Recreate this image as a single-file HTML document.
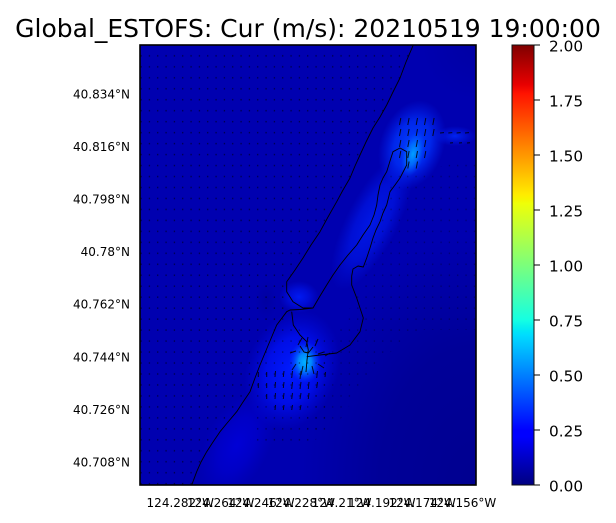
<!DOCTYPE html>
<html>
<head>
<meta charset="utf-8">
<style>
html,body{margin:0;padding:0;background:#fff;width:616px;height:523px;overflow:hidden;}
svg{display:block;position:absolute;left:0;top:0;}
text{font-family:"DejaVu Sans","Liberation Sans",sans-serif;fill:#000;}
</style>
</head>
<body>
<svg width="616" height="523" viewBox="0 0 616 523" xmlns="http://www.w3.org/2000/svg" overflow="hidden">
<defs>
  <clipPath id="pc"><rect x="140" y="45" width="336" height="440"/></clipPath>
  <pattern id="q" x="145.7" y="51.7" width="8.333" height="10.97" patternUnits="userSpaceOnUse">
    <rect x="3.2" y="3.4" width="1" height="1.5" fill="#000" fill-opacity="0.7"/>
  </pattern>
  <radialGradient id="gDarkU" gradientUnits="userSpaceOnUse" cx="0" cy="0" r="1" gradientTransform="translate(476 485) scale(175 250)"><stop offset="0" stop-color="#000090" stop-opacity="1"/><stop offset="0.55" stop-color="#000092" stop-opacity="0.8"/><stop offset="1" stop-color="#000092" stop-opacity="0"/></radialGradient>
  <radialGradient id="gCornerU" gradientUnits="userSpaceOnUse" cx="0" cy="0" r="1" gradientTransform="translate(476 45) scale(55 55)"><stop offset="0" stop-color="#0000a4" stop-opacity="1"/><stop offset="1" stop-color="#0000a4" stop-opacity="0"/></radialGradient>
  <radialGradient id="gChan"><stop offset="0" stop-color="#0018e6" stop-opacity="1"/><stop offset="0.55" stop-color="#0014e0" stop-opacity="0.75"/><stop offset="1" stop-color="#0010d8" stop-opacity="0"/></radialGradient>
  <radialGradient id="gTR"><stop offset="0" stop-color="#0040ff" stop-opacity="1"/><stop offset="0.55" stop-color="#0030f8" stop-opacity="0.8"/><stop offset="1" stop-color="#0020f0" stop-opacity="0"/></radialGradient>
  <radialGradient id="gCore"><stop offset="0" stop-color="#00a0ff" stop-opacity="1"/><stop offset="0.5" stop-color="#0078ff" stop-opacity="0.75"/><stop offset="1" stop-color="#0050ff" stop-opacity="0"/></radialGradient>
  <radialGradient id="gBand"><stop offset="0" stop-color="#0024f0" stop-opacity="1"/><stop offset="1" stop-color="#001ae8" stop-opacity="0"/></radialGradient>
  <radialGradient id="gJ"><stop offset="0" stop-color="#001af2" stop-opacity="1"/><stop offset="0.5" stop-color="#0014ea" stop-opacity="0.65"/><stop offset="1" stop-color="#0010e0" stop-opacity="0"/></radialGradient>
  <radialGradient id="gHalo"><stop offset="0" stop-color="#001cff" stop-opacity="1"/><stop offset="0.55" stop-color="#0010f0" stop-opacity="0.85"/><stop offset="1" stop-color="#0008d8" stop-opacity="0"/></radialGradient>
  <radialGradient id="gSpot"><stop offset="0" stop-color="#00b4ff" stop-opacity="1"/><stop offset="0.4" stop-color="#0094ff" stop-opacity="0.9"/><stop offset="1" stop-color="#0040ff" stop-opacity="0"/></radialGradient>
  <radialGradient id="gLow"><stop offset="0" stop-color="#0000d6" stop-opacity="1"/><stop offset="0.5" stop-color="#0000d0" stop-opacity="0.7"/><stop offset="1" stop-color="#0000c8" stop-opacity="0"/></radialGradient>
  <radialGradient id="gShade"><stop offset="0" stop-color="#0000a0" stop-opacity="0.9"/><stop offset="1" stop-color="#0000a0" stop-opacity="0"/></radialGradient>
  <linearGradient id="jet" x1="0" y1="1" x2="0" y2="0">
    <stop offset="0" stop-color="#000080"/>
    <stop offset="0.11" stop-color="#0000ff"/>
    <stop offset="0.125" stop-color="#0000ff"/>
    <stop offset="0.34" stop-color="#00dbff"/>
    <stop offset="0.35" stop-color="#00e6f7"/>
    <stop offset="0.375" stop-color="#15ffe2"/>
    <stop offset="0.64" stop-color="#efff08"/>
    <stop offset="0.65" stop-color="#f7f500"/>
    <stop offset="0.66" stop-color="#ffec00"/>
    <stop offset="0.89" stop-color="#ff1300"/>
    <stop offset="0.91" stop-color="#e80000"/>
    <stop offset="1" stop-color="#800000"/>
  </linearGradient>
</defs>

<rect x="0" y="0" width="616" height="523" fill="#fff"/>

<!-- Title -->
<text x="308" y="37" font-size="25" text-anchor="middle">Global_ESTOFS: Cur (m/s): 20210519 19:00:00</text>

<!-- Plot field -->
<g clip-path="url(#pc)">
  <rect x="140" y="45" width="336" height="440" fill="#0000b0"/>
  <rect x="140" y="45" width="336" height="440" fill="url(#gDarkU)"/>
  <rect x="140" y="45" width="336" height="440" fill="url(#gCornerU)"/>
  <ellipse cx="372" cy="222" rx="26" ry="75" fill="url(#gChan)" transform="rotate(27 372 222)"/>
  <ellipse cx="237" cy="445" rx="32" ry="58" fill="url(#gLow)" transform="rotate(27 237 445)"/>
  <ellipse cx="266" cy="300" rx="11" ry="20" fill="url(#gShade)"/>
  <ellipse cx="455" cy="136" rx="21" ry="10" fill="url(#gBand)"/>
  <ellipse cx="412" cy="145" rx="32" ry="46" fill="url(#gTR)" transform="rotate(20 412 145)"/>
  <ellipse cx="413" cy="154" rx="11" ry="23" fill="url(#gCore)" transform="rotate(15 413 154)"/>
  <ellipse cx="299" cy="297" rx="20" ry="16" fill="url(#gJ)"/>
  <ellipse cx="292" cy="370" rx="46" ry="62" fill="url(#gHalo)" transform="rotate(20 292 370)"/>
  <ellipse cx="305" cy="362" rx="16" ry="21" fill="url(#gSpot)"/>

  <!-- quiver dots -->
  <polygon points="140,45 413,45 400,78 386.7,105 373,128 360,155 350,178 336.7,201.7 320,231.7 303,258 286.7,281.7 286,292 283,313 276.7,325 268.3,345 260,365 250,391.7 236.7,411.7 220,431.7 206.7,451.7 196.7,471.7 191.7,485 140,485" fill="url(#q)"/>
  <polygon points="390,175 476,160 476,330 420,330 380,360 340,420 300,440 330,340 355,300 370,250" fill="url(#q)" opacity="0.55"/>
  <polygon points="283,313 300,330 330,340 330,430 300,450 250,440 260,360" fill="url(#q)" opacity="0.8"/>

  <!-- quiver arrows -->
  <g stroke="#000" stroke-width="1" stroke-opacity="0.85" fill="none">
    <path d="M399.5,125L400.8,118 M407.8,125L409.1,118 M416.2,125L417.5,118 M424.5,125L425.8,118 M432.8,125L434.1,118
             M399.5,136L400.8,129 M407.8,136L409.1,129 M416.2,136L417.5,129 M424.5,136L425.8,129 M432.8,136L434.1,129
             M399.5,147L400.8,140 M407.8,147L409.1,140 M416.2,147L417.5,140 M424.5,147L425.8,140
             M399.5,158L400.8,151 M407.8,158L409.1,151 M416.2,158L417.5,151 M424.5,158L425.8,151
             M407.8,168.5L409.1,161.5 M416.2,168.5L417.5,161.5
             M440,133L444,132.6 M448.3,133L452.3,132.6 M456.6,133L460.6,132.6 M465,133L469,132.6
             M450,143L453,142.7 M459,143L462,142.7 M467,143L470,142.7"/>
    <path d="M298,345L302,338 M306,347L308,337 M315,346L318,339 M290,353L296,351 M318,354L324,352
             M296,364L292,370 M303,366L301,375 M312,366L314,374 M318,364L324,368 M325,356L330,353
             M258.3,377L258.3,372 M266.7,377L266.7,372 M275,377L275.5,371 M283.3,377L284,371 M291.7,378L292.5,371 M300,379L301,371 M316.7,378L317.5,371 M325,377L325.5,372
             M258.3,388L258.3,383 M266.7,388L266.7,383 M275,388L275.5,382 M283.3,388L284,382 M291.7,389L292.5,382 M300,389L301,382 M308.3,389L309,382 M316.7,388L317.5,382
             M266.7,399L266.7,394 M275,399L275.5,393 M283.3,399L284,393 M291.7,399L292.5,393 M300,399L301,393 M308.3,399L309,393
             M275,410L275.5,405 M283.3,410L284,405 M291.7,410L292.5,405 M300,410L301,405"/>
  </g>

  <!-- coastlines -->
  <g stroke="#000" stroke-width="0.9" fill="none" stroke-linejoin="round">
    <path d="M413.3,45 L406,62 L400,78 L393,92 L386.7,105 L380,117 L373,128 L366,142 L360,155 L355,166 L350,178 L343,190 L336.7,201.7 L328,217 L320,231.7 L311,245 L303,258 L295,270 L286.7,281.7 L286.7,291.7 L293,301.7 L303,308 L313,308 L320,296 L326.7,285 L333,275 L340,265 L348,255 L356.7,245 L363,235 L370,225 L374,215 L376.7,205 L378,195 L380,185 L383,178 L386.7,171.7 L390,161 L393,151.7 L400,148 L406.7,151.7 L406.7,165 L400,178 L395,185 L390,191.7 L386.7,205 L383,213 L380,221.7 L376,230 L373,238 L370,248 L366.7,258 L363.3,267 L358,266 L353,269 L351.7,276 L351.7,285 L356.7,298 L360,308 L363.3,318 L360,331.7 L350,345 L336.7,353 L320,355 L306.7,356.7"/>
    <path d="M313,308 L300,309.5 L290,310 L286.7,311.7 L276.7,325 L268.3,345 L260,365 L255,378 L250,391.7 L243,402 L236.7,411.7 L228,422 L220,431.7 L213,442 L206.7,451.7 L201,462 L196.7,471.7 L191.7,485"/>
    <path d="M291.7,311.7 L293.3,325 L300,335 L306.7,341.7 L308.3,350 L307,360 L306,372"/>
    <path d="M300,346 L304,352 L308.3,353 L313,347"/>
  </g>
</g>
<rect x="140" y="45" width="336" height="440" fill="none" stroke="#000" stroke-width="1.6"/>

<!-- Y labels -->
<g font-size="12" text-anchor="end">
  <text x="130" y="98.5">40.834°N</text>
  <text x="130" y="151.1">40.816°N</text>
  <text x="130" y="203.6">40.798°N</text>
  <text x="130" y="256.2">40.78°N</text>
  <text x="130" y="308.7">40.762°N</text>
  <text x="130" y="361.3">40.744°N</text>
  <text x="130" y="413.9">40.726°N</text>
  <text x="130" y="466.4">40.708°N</text>
</g>

<!-- X labels -->
<g font-size="12" text-anchor="middle">
  <text x="180.3" y="507">124.282°W</text>
  <text x="220.6" y="507">124.264°W</text>
  <text x="260.9" y="507">124.246°W</text>
  <text x="301.3" y="507">124.228°W</text>
  <text x="341.6" y="507">124.21°W</text>
  <text x="381.9" y="507">124.192°W</text>
  <text x="422.2" y="507">124.174°W</text>
  <text x="462.5" y="507">124.156°W</text>
</g>

<!-- Colorbar -->
<rect x="512" y="45" width="22" height="440" fill="url(#jet)" stroke="#111" stroke-width="1"/>
<g stroke="#000" stroke-width="1">
  <line x1="534" y1="45" x2="540" y2="45"/>
  <line x1="534" y1="100" x2="540" y2="100"/>
  <line x1="534" y1="155" x2="540" y2="155"/>
  <line x1="534" y1="210" x2="540" y2="210"/>
  <line x1="534" y1="265" x2="540" y2="265"/>
  <line x1="534" y1="320" x2="540" y2="320"/>
  <line x1="534" y1="375" x2="540" y2="375"/>
  <line x1="534" y1="430" x2="540" y2="430"/>
  <line x1="534" y1="485" x2="540" y2="485"/>
</g>
<g font-size="15.3">
  <text x="549" y="51.5">2.00</text>
  <text x="549" y="106.5">1.75</text>
  <text x="549" y="161.5">1.50</text>
  <text x="549" y="216.5">1.25</text>
  <text x="549" y="271.5">1.00</text>
  <text x="549" y="326.5">0.75</text>
  <text x="549" y="381.5">0.50</text>
  <text x="549" y="436.5">0.25</text>
  <text x="549" y="491.5">0.00</text>
</g>
</svg>
</body>
</html>
